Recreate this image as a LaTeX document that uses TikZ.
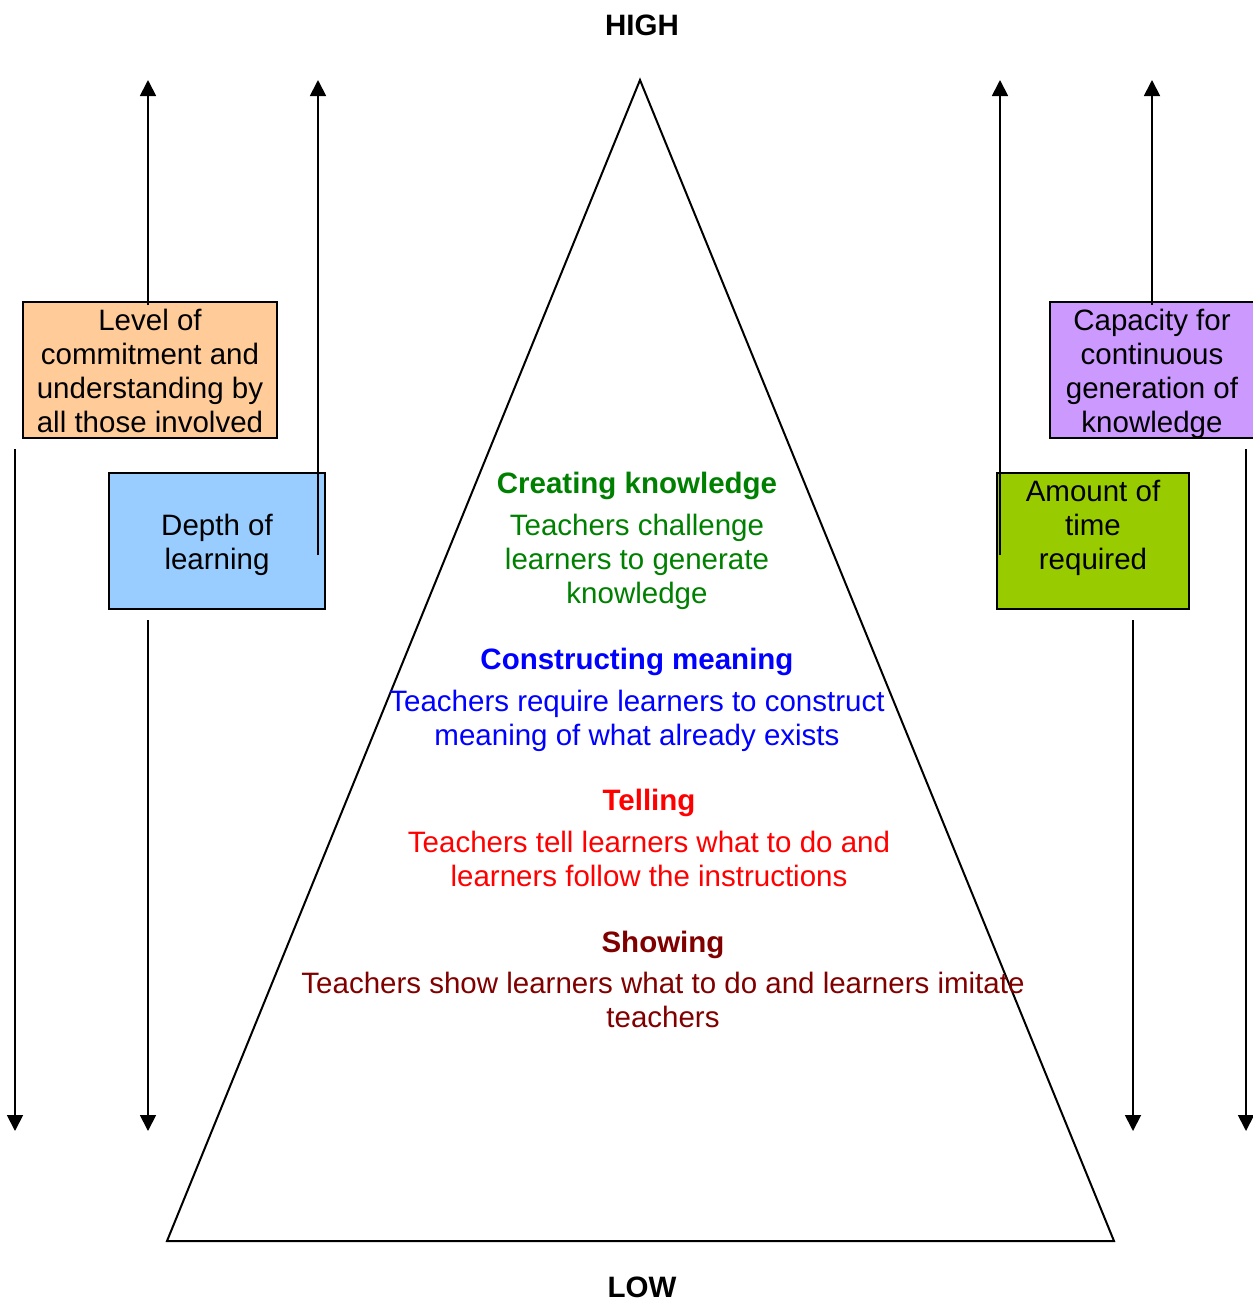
\documentclass[tikz,border=0pt]{standalone}
\usepackage{fontspec}
\setmainfont{Liberation Sans}
\usetikzlibrary{arrows.meta}
\definecolor{boxorange}{HTML}{FFCC99}
\definecolor{boxblue}{HTML}{99CCFF}
\definecolor{boxpurple}{HTML}{CC99FF}
\definecolor{boxgreen}{HTML}{99CC00}
\definecolor{kgreen}{HTML}{008000}
\definecolor{kblue}{HTML}{0000FF}
\definecolor{kred}{HTML}{FF0000}
\definecolor{kdred}{HTML}{800000}
\begin{document}
\begin{tikzpicture}[x=1pt,y=-1pt,
  txt/.style={font=\fontsize{29.5}{34}\selectfont, align=center, inner sep=0pt, anchor=north},
  hd/.style={font=\fontsize{29.5}{34}\selectfont\bfseries, inner sep=0pt, anchor=north},
  boxrect/.style={draw=black, line width=2pt},
  arr/.style={line width=1.8pt, -{Triangle[width=16pt,length=16pt]}},
  tri/.style={line width=2pt, line join=miter}]
\useasboundingbox (0,0) rectangle (1253,1302);

% triangle
\coordinate (apex) at (640,80);
\coordinate (bl) at (167,1241);
\coordinate (br) at (1114,1241);
\draw[tri] (apex) -- (bl) -- (br) -- cycle;

% labels HIGH / LOW
\node[hd] (high) at (642,15) {HIGH};
\node[hd] (low) at (642,1277) {LOW};

% boxes
\fill[boxorange] (23,302) rectangle (277,438);
\draw[boxrect] (23,302) rectangle (277,438);
\fill[boxblue] (109,473) rectangle (325,609);
\draw[boxrect] (109,473) rectangle (325,609);
\fill[boxpurple] (1050,302) rectangle (1256,438);
\draw[boxrect] (1050,302) rectangle (1256,438);
\fill[boxgreen] (997,473) rectangle (1189,609);
\draw[boxrect] (997,473) rectangle (1189,609);

\node[txt] (level) at (150,309) {Level of\\commitment and\\understanding by\\all those involved};
\node[txt] (depth) at (217,514) {Depth of\\learning};
\node[txt] (capacity) at (1152,309) {Capacity for\\continuous\\generation of\\knowledge};
\node[txt] (amount) at (1093,480) {Amount of\\time\\required};

% arrow coordinates
\coordinate (a1s) at (148,305);  \coordinate (a1e) at (148,80);
\coordinate (a2s) at (15,449);   \coordinate (a2e) at (15,1131);
\coordinate (a3s) at (318,555);  \coordinate (a3e) at (318,80);
\coordinate (a4s) at (148,620);  \coordinate (a4e) at (148,1131);
\coordinate (a5s) at (1000,555); \coordinate (a5e) at (1000,80);
\coordinate (a6s) at (1133,620); \coordinate (a6e) at (1133,1131);
\coordinate (a7s) at (1152,305); \coordinate (a7e) at (1152,80);
\coordinate (a8s) at (1246,449); \coordinate (a8e) at (1246,1131);
\foreach \i in {1,...,8} {\draw[arr] (a\i s) -- (a\i e);}

% pyramid text
\node[hd, text=kgreen] (create) at (637,472) {Creating knowledge};
\node[txt, text=kgreen] (createt) at (637,514) {Teachers challenge\\learners to generate\\knowledge};
\node[hd, text=kblue] (construct) at (637,648) {Constructing meaning};
\node[txt, text=kblue] (constructt) at (637,690) {Teachers require learners to construct\\meaning of what already exists};
\node[hd, text=kred] (tell) at (649,789) {Telling};
\node[txt, text=kred] (tellt) at (649,831) {Teachers tell learners what to do and\\learners follow the instructions};
\node[hd, text=kdred] (show) at (663,931) {Showing};
\node[txt, text=kdred] (showt) at (663,972) {Teachers show learners what to do and learners imitate\\teachers};
\end{tikzpicture}
\end{document}
